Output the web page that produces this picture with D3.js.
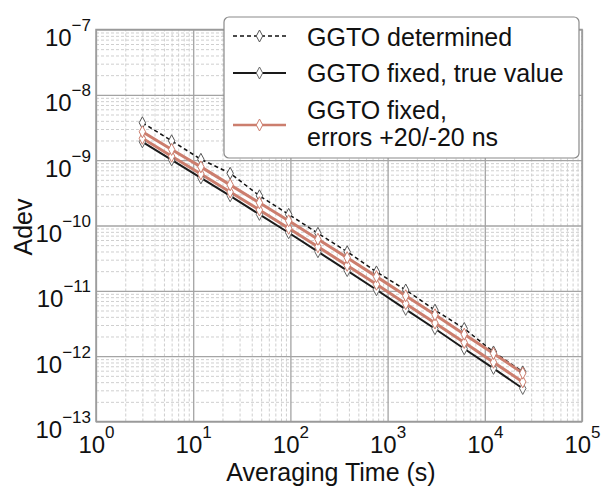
<!DOCTYPE html>
<html>
<head>
<meta charset="utf-8">
<script src="https://cdn.jsdelivr.net/npm/d3@7"></script>
<style>
  body { margin: 0; background: #fff; }
  svg { display: block; font-family: "Liberation Sans", Arial, sans-serif; }
</style>
</head>
<body>
<svg id="chart" width="602" height="486"></svg>
<script>
// Averaging times (s)
const tau = [3, 6, 12, 24, 48, 96, 192, 384, 768, 1536, 3072, 6144, 12288, 24576];

// Allan deviation for each processing case
const adevDetermined = [3.74e-9, 1.98e-9, 1.03e-9, 6.3e-10, 2.85e-10, 1.48e-10, 7.6e-11,
  3.96e-11, 1.95e-11, 1.03e-11, 5.06e-12, 2.65e-12, 1.16e-12, 5.75e-13];
const adevFixedTrue = [1.91e-9, 1.01e-9, 5.35e-10, 2.85e-10, 1.48e-10, 7.75e-11, 3.97e-11,
  2.04e-11, 1.04e-11, 5.2e-12, 2.63e-12, 1.3e-12, 6.5e-13, 3.2e-13];
const adevFixedPlus20 = [2.72e-9, 1.46e-9, 7.9e-10, 4.19e-10, 2.23e-10, 1.18e-10, 6.15e-11,
  3.22e-11, 1.65e-11, 8.4e-12, 4.3e-12, 2.17e-12, 1.1e-12, 5.5e-13];
const adevFixedMinus20 = [2.16e-9, 1.15e-9, 6.16e-10, 3.26e-10, 1.73e-10, 9.07e-11, 4.72e-11,
  2.45e-11, 1.26e-11, 6.37e-12, 3.21e-12, 1.62e-12, 8.07e-13, 4.04e-13];

// Axis decades
const xTickExponents = [0, 1, 2, 3, 4, 5];
const yTickExponents = [-7, -8, -9, -10, -11, -12, -13];

const xLabel = "Averaging Time (s)";
const yLabel = "Adev";
const legendLabels = [["GGTO determined"], ["GGTO fixed, true value"], ["GGTO fixed,", "errors +20/-20 ns"]];

const RED = "#cc7e6e";

const svg = d3.select("#chart");
const plot = { left: 96, right: 582, top: 29.5, bottom: 421.5 };

const x = d3.scaleLog().domain([1, 1e5]).range([plot.left, plot.right]);
const y = d3.scaleLog().domain([1e-13, 1e-7]).range([plot.bottom, plot.top]);

// minor grid positions: 2..9 within each decade
function minorValues(lo, hi) {
  const out = [];
  for (let e = lo; e < hi; e++) for (let k = 2; k <= 9; k++) out.push(k * Math.pow(10, e));
  return out;
}
const xMajor = xTickExponents.map(e => Math.pow(10, e));
const yMajor = yTickExponents.map(e => Math.pow(10, e));

const h = plot.bottom - plot.top, w = plot.right - plot.left;

function styleGrid(g, color, dash, width) {
  g.select(".domain").remove();
  g.selectAll(".tick line").attr("stroke", color).attr("stroke-dasharray", dash).attr("stroke-width", width);
}

// minor grid
svg.append("g").attr("transform", `translate(0,${plot.bottom})`)
  .call(d3.axisBottom(x).tickValues(minorValues(0, 5)).tickSize(-h).tickFormat(""))
  .call(g => styleGrid(g, "#cfcfcf", "3,2", 1));
svg.append("g").attr("transform", `translate(${plot.left},0)`)
  .call(d3.axisLeft(y).tickValues(minorValues(-13, -7)).tickSize(-w).tickFormat(""))
  .call(g => styleGrid(g, "#cfcfcf", "3,2", 1));

// major grid
svg.append("g").attr("transform", `translate(0,${plot.bottom})`)
  .call(d3.axisBottom(x).tickValues(xMajor).tickSize(-h).tickFormat(""))
  .call(g => styleGrid(g, "#a4a4a4", null, 1.3));
svg.append("g").attr("transform", `translate(${plot.left},0)`)
  .call(d3.axisLeft(y).tickValues(yMajor).tickSize(-w).tickFormat(""))
  .call(g => styleGrid(g, "#a4a4a4", null, 1.3));

// frame
svg.append("rect")
  .attr("x", plot.left).attr("y", plot.top).attr("width", w).attr("height", h)
  .attr("fill", "none").attr("stroke", "#9a9a9a").attr("stroke-width", 1.5);

// tick labels as 10^n with superscript exponent
function powerLabel(text, exp, supShift) {
  text.text(null);
  text.append("tspan").text("10");
  text.append("tspan").attr("font-size", 17).attr("dy", supShift)
    .text(exp < 0 ? "\u2212" + (-exp) : String(exp));
}

svg.append("g").attr("transform", `translate(0,${plot.bottom})`)
  .call(d3.axisBottom(x).tickValues(xMajor).tickSize(0).tickPadding(0).tickFormat(d => d))
  .call(g => {
    g.select(".domain").remove();
    g.selectAll(".tick text")
      .attr("y", 31).attr("dy", null)
      .attr("font-size", 24).attr("fill", "#111")
      .attr("font-family", "Liberation Sans, Arial, sans-serif")
      .attr("text-anchor", "middle")
      .each(function (d) { powerLabel(d3.select(this), Math.round(Math.log10(d)), -15); });
  });

svg.append("g").attr("transform", `translate(${plot.left},0)`)
  .call(d3.axisLeft(y).tickValues(yMajor).tickSize(0).tickPadding(0).tickFormat(d => d))
  .call(g => {
    g.select(".domain").remove();
    g.selectAll(".tick text")
      .attr("x", -5).attr("dy", null).attr("y", 16)
      .attr("font-size", 24).attr("fill", "#111")
      .attr("font-family", "Liberation Sans, Arial, sans-serif")
      .attr("text-anchor", "end")
      .each(function (d) { powerLabel(d3.select(this), Math.round(Math.log10(d)), -15); });
  });

// axis titles
svg.append("text").attr("x", 331).attr("y", 481).attr("text-anchor", "middle")
  .attr("font-size", 25).attr("fill", "#111").text(xLabel);
svg.append("text").attr("transform", "translate(32,227) rotate(-90)").attr("text-anchor", "middle")
  .attr("font-size", 25).attr("fill", "#111").text(yLabel);

// diamond marker
const diamond = "M0,-6 L3.2,0 L0,6 L-3.2,0 Z";

const line = d3.line().x(d => x(d[0])).y(d => y(d[1]));
const zipped = vals => tau.map((t, i) => [t, vals[i]]);

const series = [
  { vals: adevDetermined, stroke: "#111", width: 1.5, dash: "4,3", marker: "#555" },
  { vals: adevFixedTrue, stroke: "#1a1a1a", width: 2, dash: null, marker: "#666" },
  { vals: adevFixedMinus20, stroke: RED, width: 3, dash: null, marker: RED },
  { vals: adevFixedPlus20, stroke: RED, width: 3, dash: null, marker: RED }
];

const dataLayer = svg.append("g");
series.forEach(s => {
  dataLayer.append("path").datum(zipped(s.vals))
    .attr("fill", "none").attr("stroke", s.stroke).attr("stroke-width", s.width)
    .attr("stroke-dasharray", s.dash).attr("d", line);
});
series.forEach(s => {
  dataLayer.append("g").selectAll("path").data(zipped(s.vals)).join("path")
    .attr("transform", d => `translate(${x(d[0])},${y(d[1])})`)
    .attr("d", diamond).attr("fill", "#fff").attr("stroke", s.marker).attr("stroke-width", 1);
});

// legend
const lg = svg.append("g");
lg.append("rect").attr("x", 224).attr("y", 17).attr("width", 355).attr("height", 141)
  .attr("rx", 5).attr("fill", "#fff").attr("stroke", "#8a8a8a").attr("stroke-width", 1.2);

const legendRows = [
  { sy: 36, stroke: "#111", width: 1.5, dash: "4,3", marker: "#555", lines: legendLabels[0], ty: [45.5] },
  { sy: 73, stroke: "#1a1a1a", width: 2, dash: null, marker: "#666", lines: legendLabels[1], ty: [82] },
  { sy: 125, stroke: RED, width: 2.5, dash: null, marker: RED, lines: legendLabels[2], ty: [118.5, 145.5] }
];
legendRows.forEach(r => {
  lg.append("line").attr("x1", 233).attr("x2", 286).attr("y1", r.sy).attr("y2", r.sy)
    .attr("stroke", r.stroke).attr("stroke-width", r.width).attr("stroke-dasharray", r.dash);
  lg.append("path").attr("transform", `translate(259.5,${r.sy})`).attr("d", diamond)
    .attr("fill", "#fff").attr("stroke", r.marker).attr("stroke-width", 1);
  r.lines.forEach((t, i) => {
    lg.append("text").attr("x", 307).attr("y", r.ty[i]).attr("font-size", 25)
      .attr("fill", "#111").text(t);
  });
});
</script>
</body>
</html>
